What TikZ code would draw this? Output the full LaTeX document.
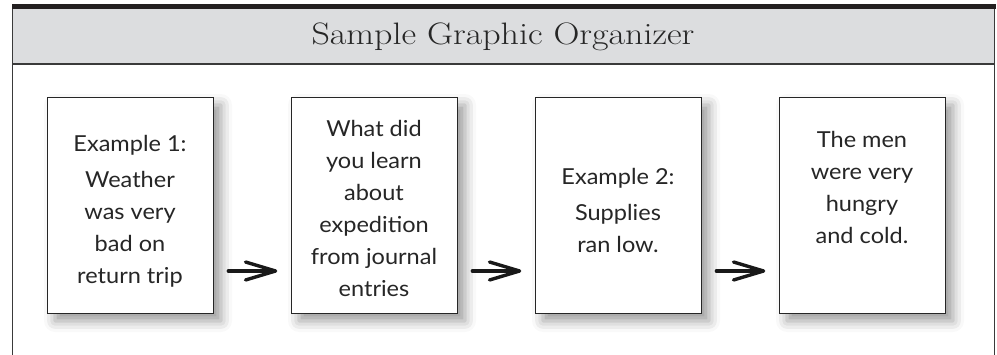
\documentclass[tikz,border=0pt]{standalone}
\usepackage{fontspec}
\newfontfamily\handfont{Lato}
\usetikzlibrary{shadows.blur}
\definecolor{headgray}{HTML}{DCDDDF}
\definecolor{bardark}{HTML}{231F20}
\definecolor{framegray}{HTML}{3A3A3A}
\tikzset{
  stepbox/.style={draw=black!85, line width=0.9pt, fill=white, minimum width=166pt, minimum height=216pt, inner sep=0pt,
    blur shadow={shadow xshift=8pt, shadow yshift=-8pt, shadow blur radius=11pt, shadow opacity=40}},
  boxtext/.style={align=center, font=\handfont\fontsize{22}{32}\selectfont, text=black!85, xscale=1.07},
  flow/.style={line width=3.6pt, line cap=round, line join=round, shorten <=15pt, shorten >=16pt, black!90},
  flowhead/.style={line width=3.4pt, line cap=round, line join=round, black!90}
}
\begin{document}
\begin{tikzpicture}[x=1pt,y=-1pt]
\useasboundingbox (0,0) rectangle (997,355);
% header
\fill[headgray] (12.5,9) rectangle (994.5,64);
\fill[bardark] (12,4) rectangle (996,9.5);
\draw[framegray, line width=1.3pt] (12.5,64) -- (994.5,64);
\draw[framegray, line width=1.4pt] (12.5,9) -- (12.5,355);
\draw[framegray, line width=1.4pt] (994.5,9) -- (994.5,355);
\node[font=\fontsize{31}{36}\selectfont, text=black!85, xscale=1.16] (title) at (503,37) {Sample Graphic Organizer};
% boxes
\node[stepbox] (b1) at (130,205) {};
\node[stepbox] (b2) at (374,205) {};
\node[stepbox] (b3) at (618,205) {};
\node[stepbox] (b4) at (862,205) {};
\node[boxtext] (t1) at (130,211) {Example 1:\\[4pt]Weather\\was very\\bad on\\return trip};
\node[boxtext] (t2) at (374,208) {What did\\you learn\\about\\expedition\\from journal\\entries};
\node[boxtext] (t3) at (618,210) {Example 2:\\[4pt]Supplies\\ran low.};
\node[boxtext] (t4) at (862,187) {The men\\were very\\hungry\\and cold.};
% arrows
\foreach \a/\b in {b1/b2, b2/b3, b3/b4}{
  \draw[flow] ([yshift=-66pt]\a.east) -- ([yshift=-66pt]\b.west);
  \draw[flowhead] ([xshift=-45pt,yshift=-57pt]\b.west) -- ([xshift=-15pt,yshift=-66pt]\b.west) -- ([xshift=-45pt,yshift=-75pt]\b.west);
}
\end{tikzpicture}
\end{document}
